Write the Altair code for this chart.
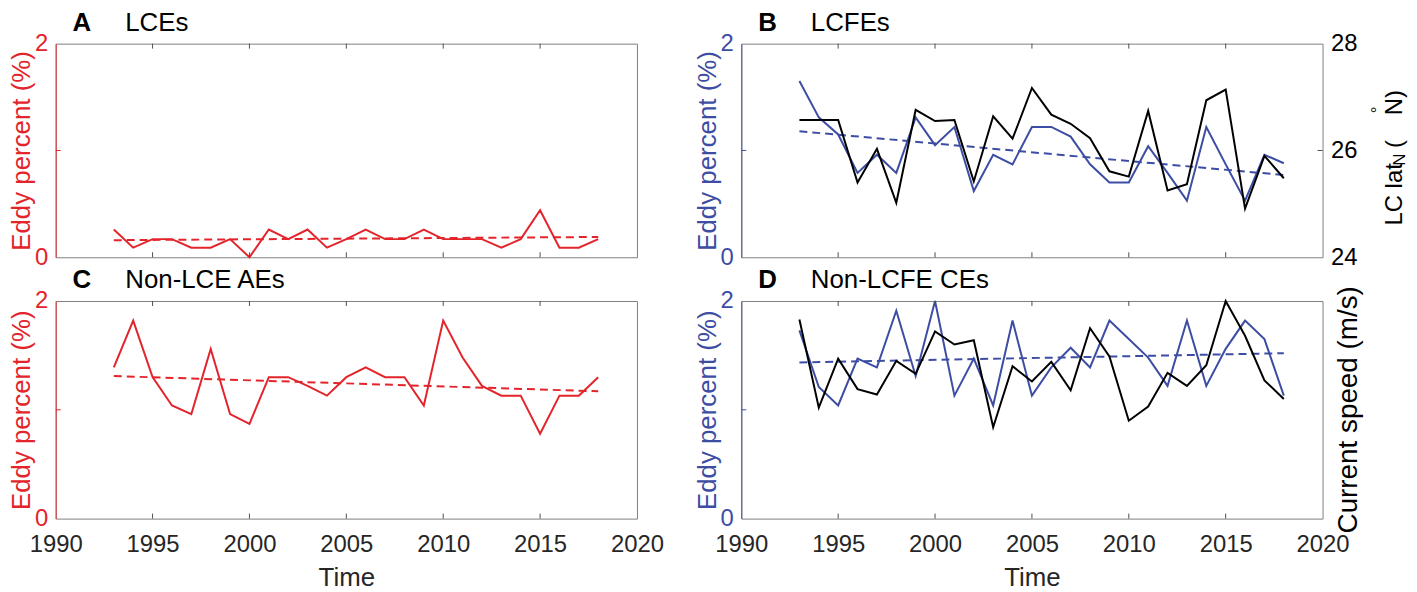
import altair as alt
import pandas as pd

# ---------------- data ----------------
years = [1993, 1994, 1995, 1996, 1997, 1998, 1999, 2000, 2001, 2002, 2003, 2004, 2005,
         2006, 2007, 2008, 2009, 2010, 2011, 2012, 2013, 2014, 2015, 2016, 2017, 2018]
trend_years = [1993, 2018]
x_tick_years = [1995, 2000, 2005, 2010, 2015]
x_label_years = [1990, 1995, 2000, 2005, 2010, 2015, 2020]

# A  LCEs (eddy percent, %)
lce_pct = [0.26, 0.09, 0.17, 0.17, 0.09, 0.09, 0.17, 0.00, 0.26, 0.17, 0.26, 0.09, 0.17,
           0.26, 0.17, 0.17, 0.26, 0.17, 0.17, 0.17, 0.09, 0.17, 0.44, 0.09, 0.09, 0.17]
lce_trend = [0.16, 0.19]

# B  LCFEs (eddy percent, %) and LC northern latitude (deg N)
lcfe_pct = [1.65, 1.31, 1.15, 0.79, 0.96, 0.79, 1.31, 1.05, 1.22, 0.62, 0.96, 0.87, 1.22,
            1.22, 1.13, 0.87, 0.70, 0.70, 1.04, 0.79, 0.53, 1.22, 0.87, 0.53, 0.96, 0.88]
lcfe_trend = [1.18, 0.77]
lc_lat = [26.57, 26.57, 26.57, 25.40, 26.03, 25.02, 26.76, 26.55, 26.57, 25.42, 26.64, 26.22, 27.17,
          26.67, 26.50, 26.23, 25.61, 25.51, 26.74, 25.25, 25.37, 26.94, 27.14, 24.91, 25.90, 25.48]

# C  Non-LCE AEs (eddy percent, %)
nonlce_pct = [1.39, 1.82, 1.30, 1.04, 0.96, 1.56, 0.96, 0.87, 1.30, 1.30, 1.22, 1.13, 1.30,
              1.39, 1.30, 1.30, 1.04, 1.82, 1.48, 1.22, 1.13, 1.13, 0.78, 1.13, 1.13, 1.30]
nonlce_trend = [1.31, 1.17]

# D  Non-LCFE CEs (eddy percent, %) and current speed (unlabelled right axis)
nonlcfe_pct = [1.73, 1.21, 1.04, 1.47, 1.39, 1.91, 1.31, 2.00, 1.13, 1.47, 1.04, 1.82, 1.13,
               1.39, 1.57, 1.39, 1.82, 1.65, 1.48, 1.22, 1.82, 1.22, 1.56, 1.82, 1.65, 1.13]
nonlcfe_trend = [1.435, 1.52]
current_speed = [1.83, 1.02, 1.47, 1.19, 1.14, 1.45, 1.33, 1.72, 1.60, 1.64, 0.84, 1.40, 1.26,
                 1.44, 1.18, 1.75, 1.49, 0.90, 1.03, 1.34, 1.22, 1.41, 2.00, 1.68, 1.27, 1.10]

# ---------------- style ----------------
FONT = "Liberation Sans"
RED = "#E3242B"
BLUE = "#3D4DA3"
GREY = "#808080"
TICK = "#4D4D4D"
DARK = "#262626"
W = 585
H_TOP, H_BOT = 215, 219

xs = alt.Scale(domain=[1990, 2020], nice=False, zero=False)
ys_pct = alt.Scale(domain=[0, 2], nice=False)


def x_axis(bottom):
    if not bottom:
        return None
    return alt.Axis(values=x_label_years, format="d", title="Time", grid=False,
                    domain=False, ticks=False, tickSize=0, labelFlush=False,
                    labelOverlap=False, labelFont=FONT, labelFontSize=24,
                    labelColor=DARK, labelPadding=14, titleFont=FONT,
                    titleFontSize=26, titleFontWeight="normal", titleColor=DARK,
                    titlePadding=8)


def y_axis(color):
    return alt.Axis(values=[0, 1, 2], format="d", title="Eddy percent (%)", orient="left",
                    grid=False, ticks=False, tickSize=0, domain=True,
                    domainColor=color, domainOpacity=0.75, domainWidth=1.2,
                    labelFont=FONT, labelFontSize=24, labelColor=color,
                    labelPadding=8, titleFont=FONT, titleFontSize=26,
                    titleFontWeight="normal", titleColor=color, titlePadding=0)


def text_mark(txt, x, y, size, weight="normal", angle=0, align="left", color="black"):
    return alt.Chart(pd.DataFrame({"t": [txt]})).mark_text(
        font=FONT, fontSize=size, fontWeight=weight, angle=angle, align=align,
        baseline="alphabetic", color=color
    ).encode(x=alt.value(x), y=alt.value(y), text="t:N")


def left_group(vals, trend, color, letter, name, bottom, h, extra_texts=()):
    xa = x_axis(bottom)
    ya = y_axis(color)
    df = pd.DataFrame({"year": years, "v": vals})
    tdf = pd.DataFrame({"year": trend_years, "v": trend})
    tick_df = pd.DataFrame({"year": x_tick_years})
    line = alt.Chart(df).mark_line(color=color, strokeWidth=2).encode(
        x=alt.X("year:Q", scale=xs, axis=xa),
        y=alt.Y("v:Q", scale=ys_pct, axis=ya))
    tr = alt.Chart(tdf).mark_line(color=color, strokeWidth=2, strokeDash=[8, 5]).encode(
        x=alt.X("year:Q", scale=xs, axis=xa),
        y=alt.Y("v:Q", scale=ys_pct, axis=ya))
    bt = alt.Chart(tick_df).mark_rule(color=TICK, strokeWidth=1).encode(
        x=alt.X("year:Q", scale=xs, axis=xa), y=alt.value(h), y2=alt.value(h - 5))
    tt = alt.Chart(tick_df).mark_rule(color=TICK, strokeWidth=1).encode(
        x=alt.X("year:Q", scale=xs, axis=xa), y=alt.value(0), y2=alt.value(5))
    yt = alt.Chart(pd.DataFrame({"v": [1]})).mark_rule(color=color, strokeWidth=1).encode(
        y=alt.Y("v:Q", scale=ys_pct, axis=ya), x=alt.value(0), x2=alt.value(5))
    layers = [line, tr, bt, tt, yt,
              text_mark(letter, 17, -13, 26, weight="bold"),
              text_mark(name, 70, -13, 26)]
    layers += list(extra_texts)
    return alt.layer(*layers)


# A
panel_a = left_group(lce_pct, lce_trend, RED, "A", "LCEs", False, H_TOP).properties(
    width=W, height=H_TOP)

# C
panel_c = left_group(nonlce_pct, nonlce_trend, RED, "C", "Non-LCE AEs", True, H_BOT).properties(
    width=W, height=H_BOT)

# B (with LC latitude on right axis)
b_right_title = [
    text_mark("LC lat", 665, 183, 24, angle=270),
    text_mark("N", 668, 123, 17, angle=270),
    text_mark("(", 665, 105, 24, angle=270),
    text_mark("°", 646, 70, 17, angle=270),
    text_mark("N)", 665, 72, 24, angle=270),
]
b_left = left_group(lcfe_pct, lcfe_trend, BLUE, "B", "LCFEs", False, H_TOP, b_right_title)
lat_scale = alt.Scale(domain=[24, 28], nice=False, zero=False)
lat_axis = alt.Axis(values=[24, 26, 28], format="d", orient="right", title=None, grid=False,
                    ticks=False, tickSize=0, domain=False, labelFont=FONT,
                    labelFontSize=24, labelColor="black", labelPadding=8)
b_black = alt.Chart(pd.DataFrame({"year": years, "lat": lc_lat})).mark_line(
    color="black", strokeWidth=2).encode(
    x=alt.X("year:Q", scale=xs, axis=None),
    y=alt.Y("lat:Q", scale=lat_scale, axis=lat_axis))
b_rtick = alt.Chart(pd.DataFrame({"lat": [26]})).mark_rule(color=TICK, strokeWidth=1).encode(
    y=alt.Y("lat:Q", scale=lat_scale, axis=lat_axis), x=alt.value(W - 5), x2=alt.value(W))
panel_b = alt.layer(b_left, alt.layer(b_black, b_rtick)).resolve_scale(
    y="independent").properties(width=W, height=H_TOP)

# D (with current speed on an unlabelled right axis)
d_right_title = [text_mark("Current speed (m/s)", 620, H_BOT / 2, 28, angle=270, align="center")]
d_left = left_group(nonlcfe_pct, nonlcfe_trend, BLUE, "D", "Non-LCFE CEs", True, H_BOT,
                    d_right_title)
spd_scale = alt.Scale(domain=[0, 2], nice=False)
d_black = alt.Chart(pd.DataFrame({"year": years, "spd": current_speed})).mark_line(
    color="black", strokeWidth=2).encode(
    x=alt.X("year:Q", scale=xs, axis=x_axis(True)),
    y=alt.Y("spd:Q", scale=spd_scale, axis=None))
panel_d = alt.layer(d_left, d_black).resolve_scale(y="independent").properties(
    width=W, height=H_BOT)

chart = alt.concat(panel_a, panel_b, panel_c, panel_d, columns=2,
                   spacing={"row": 44, "column": 105}, bounds="flush").properties(
    padding={"top": -1, "left": 0, "right": 0, "bottom": 0}, background="white"
).configure_view(stroke=GREY, strokeWidth=1)

chart.save("out.html", embed_options={"renderer": "svg", "actions": False})
